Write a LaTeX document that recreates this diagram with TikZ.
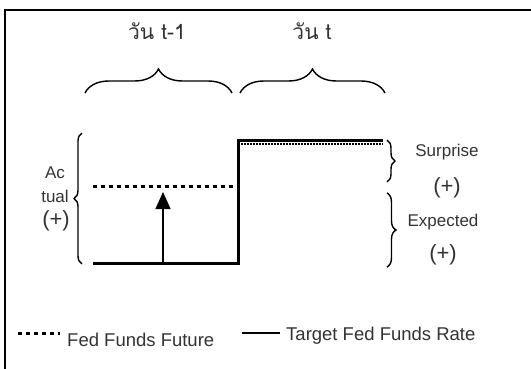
\documentclass[tikz,border=0pt]{standalone}
\usepackage{fontspec}
\setmainfont{Liberation Sans}
\newfontfamily\thaifont[Script=Thai]{Loma}
\usetikzlibrary{arrows.meta, decorations.pathreplacing}

\begin{document}
\begin{tikzpicture}[x=1pt, y=-1pt,
    lbl/.style={text=black!80, font=\fontsize{17}{24}\selectfont, inner sep=0pt},
    plus/.style={text=black!80, font=\fontsize{22}{24}\selectfont, inner sep=0pt},
    rate/.style={line width=3pt},
    future/.style={line width=3pt, dash pattern=on 4pt off 4pt},
    brc/.style={decorate, decoration={brace, amplitude=#1}, line width=1.4pt}]
  \useasboundingbox (0,0) rectangle (531,369);
  \clip (0,0) rectangle (531,369);
  \draw[line width=1.5pt] (5,10) rectangle (600,420);

  % days
  \node[lbl, font=\fontsize{21}{24}\selectfont] (day1) at (157,31) {\thaifont วัน t-1};
  \node[lbl, font=\fontsize{21}{24}\selectfont] (day2) at (312,31) {\thaifont วัน t};
  \draw[brc=24] (85,93) -- (232,93);
  \draw[brc=24] (240,93) -- (385,93);

  % rates
  \coordinate (t0) at (93,263);
  \coordinate (t1) at (238,263);
  \coordinate (t2) at (238,141);
  \coordinate (t3) at (383,141);
  \draw[rate] (t0) -- (t1) -- (t2) -- (t3);
  \coordinate (f0) at (93,186);
  \coordinate (f1) at (234,186);
  \draw[future] (f0) -- (f1);
  \coordinate (g0) at (241,144);
  \coordinate (g1) at (383,144);
  \draw[line width=1.5pt, dash pattern=on 1.5pt off 1.5pt] (g0) -- (g1);
  \coordinate (a0) at (163,262);
  \coordinate (a1) at (163,192);
  \draw[-{Triangle[length=17pt, width=15pt]}, line width=1.2pt] (a0) -- (a1);

  % changes
  \draw[brc=8] (82,264) -- (82,133);
  \node[lbl, align=center] (act) at (55,185) {Ac\\tual};
  \node[plus] (actp) at (56,221) {(+)};
  \draw[brc=8] (387,140) -- (387,182);
  \node[lbl] (sur) at (447,152) {Surprise};
  \node[plus] (surp) at (447,188) {(+)};
  \draw[brc=9] (387,193) -- (387,267);
  \node[lbl] (exp) at (443,222) {Expected};
  \node[plus] (expp) at (443,255) {(+)};

  % legend
  \coordinate (l0) at (18,333);
  \coordinate (l1) at (60,333);
  \draw[future] (l0) -- (l1);
  \node[lbl, font=\fontsize{18.5}{20}\selectfont, anchor=west] (leg1) at (67,340) {Fed Funds Future};
  \coordinate (l2) at (242,333);
  \coordinate (l3) at (280,333);
  \draw[line width=2.5pt] (l2) -- (l3);
  \node[lbl, font=\fontsize{18.5}{20}\selectfont, anchor=west] (leg2) at (286,336) {Target Fed Funds Rate};
\end{tikzpicture}
\end{document}
